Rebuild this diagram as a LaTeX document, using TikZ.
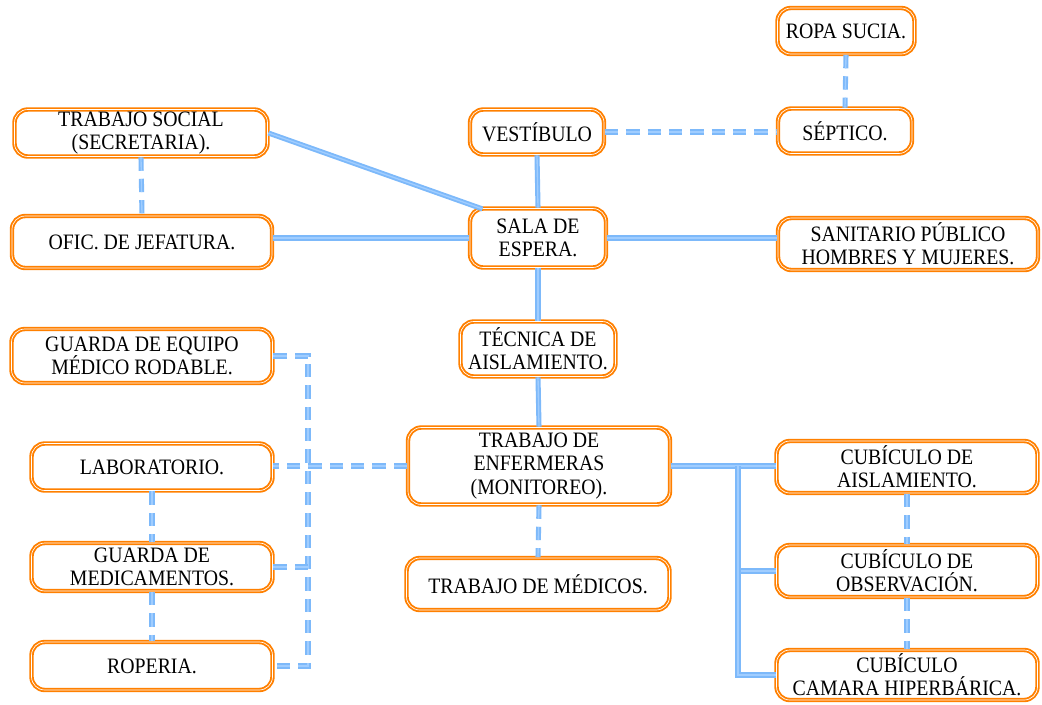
\documentclass[tikz,border=0pt]{standalone}
\usepackage{fontspec}
\setmainfont{Liberation Serif}[FakeStretch=0.9]
\definecolor{orangeC}{RGB}{255,128,0}
\definecolor{blueC}{RGB}{125,185,250}
\definecolor{blueL}{RGB}{160,205,255}
\begin{document}
\begin{tikzpicture}[x=0.75pt,y=-0.75pt,
  box/.style={draw=orangeC, line width=1.4pt, double=white, double distance=0.5pt,
    rounded corners=10pt, fill=white, align=center, inner sep=0pt,
    font=\fontsize{16.5}{17.5}\selectfont},
  sz/.style 2 args={minimum width=#1*0.75pt, minimum height=#2*0.75pt},
  link/.style={draw=blueC, line width=1.4pt, double=blueL, double distance=1pt},
  dlink/.style={link, dash pattern=on 10pt off 6pt}]
\useasboundingbox (0,0) rectangle (1042,704);
\node[box, sz={137}{46}] (ropa) at (846,31) {ROPA SUCIA.};
\node[box, sz={134}{45}] (sep) at (845,131) {SÉPTICO.};
\node[box, sz={134}{45}] (vest) at (537,132) {VESTÍBULO};
\node[box, sz={253}{47}] (ts) at (141,133) {TRABAJO SOCIAL\\(SECRETARIA).};
\node[box, sz={260}{52}] (ofic) at (142,242) {OFIC. DE JEFATURA.};
\node[box, sz={136}{59}] (sala) at (538,238) {SALA DE\\ESPERA.};
\node[box, sz={260}{52}] (sani) at (908,244) {SANITARIO PÚBLICO\\HOMBRES Y MUJERES.};
\node[box, sz={261}{54}] (ge) at (142,356) {GUARDA DE EQUIPO\\MÉDICO RODABLE.};
\node[box, sz={155}{55}] (tec) at (538,349) {TÉCNICA DE\\AISLAMIENTO.};
\node[box, sz={262}{77}] (enf) at (539,466) {TRABAJO DE\\ENFERMERAS\\(MONITOREO).};
\node[box, sz={241}{47}] (lab) at (152,467) {LABORATORIO.};
\node[box, sz={261}{52}] (cubA) at (907,467) {CUBÍCULO DE\\AISLAMIENTO.};
\node[box, sz={241}{48}] (gm) at (152,567) {GUARDA DE\\MEDICAMENTOS.};
\node[box, sz={263}{52}] (med) at (538,584) {TRABAJO DE MÉDICOS.};
\node[box, sz={261}{52}] (cubO) at (907,571) {CUBÍCULO DE\\OBSERVACIÓN.};
\node[box, sz={241}{48}] (rop) at (152,666) {ROPERIA.};
\node[box, sz={261}{50}] (cubC) at (907,675) {CUBÍCULO\\CAMARA HIPERBÁRICA.};
% connectors
\draw[dlink] (ropa.south) -- (sep.north);
\draw[dlink] (vest.east) -- (vest.east -| sep.west);
\draw[link] (vest.south) -- (sala.north);
\draw[link] (ts.east) -- ([xshift=10pt,yshift=-1pt]sala.north west);
\draw[dlink] (ts.south) -- (ofic.north);
\draw[link] (sala.west) -- (sala.west -| ofic.east);
\draw[link] (sala.east) -- (sani.west |- sala.east);
\draw[link] (sala.south) -- (tec.north);
\draw[link] (tec.south) -- (enf.north);
\draw[dlink] (enf.west) -- (enf.west -| lab.east);
\coordinate (bt) at (308,356);
\coordinate (bb) at (308,666);
\draw[dlink] (ge.east) -- (bt) -- (bb) -- (rop.east);
\draw[dlink] (gm.east) -- (gm.east -| bt);
\draw[dlink] (lab.south) -- (gm.north);
\draw[dlink] (gm.south) -- (rop.north);
\draw[dlink] (enf.south) -- (med.north);
\draw[link] (enf.east) -- (enf.east -| cubA.west);
\coordinate (jn) at (738,466);
\draw[link] (jn) |- (cubO.west);
\draw[link] (jn) |- (cubC.west);
\draw[dlink] (cubA.south) -- (cubO.north);
\draw[dlink] (cubO.south) -- (cubC.north);
\end{tikzpicture}
\end{document}
